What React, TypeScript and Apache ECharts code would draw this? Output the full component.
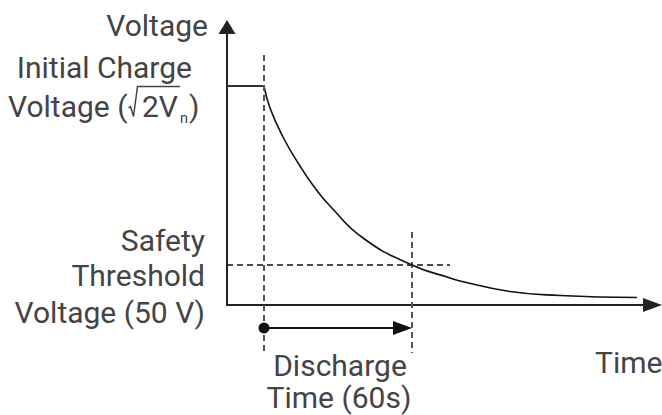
import React, { useEffect, useRef } from "react";
import * as echarts from "echarts";

// Schematic units: x = time (arbitrary), y = voltage (arbitrary)
const plateau: number[][] = [[0, 219], [37, 219]];
const decayCurve: number[][] = [
  [37, 219], [43, 197], [56, 168], [73, 139], [88, 117], [103, 99],
  [136, 67], [185, 40], [223, 27], [233, 24], [283, 13.5], [333, 9.5], [410, 7.5],
];
const dischargeStart = 37;
const dischargeEnd = 185;
const safetyLevel = 40;
const arrowLevel = -23;

const leftLabels = ["Safety", "Threshold", "Voltage (50 V)"];
const bottomLabels = ["Discharge", "Time (60s)"];

const TXT = "#444";
const FONT = "Roboto, 'Noto Sans', sans-serif";
const FS = 30;

export default function App() {
  const ref = useRef<HTMLDivElement>(null);
  useEffect(() => {
    if (!ref.current) return;
    const chart = echarts.init(ref.current, null, { renderer: "svg" });
    const dashedV = { color: "#555", width: 2, type: [6, 4] as any };
    const txt = (text: string, x: number, y: number, align: string, size = FS) => ({
      type: "text",
      x,
      y,
      style: { text, fill: TXT, font: `${size}px ${FONT}`, align, verticalAlign: "middle" },
    });
    chart.setOption({
      animation: false,
      grid: { left: 227, top: 27, right: 9.5, bottom: 110, outerBoundsMode: "none" } as any,
      xAxis: {
        type: "value",
        min: 0,
        max: 425.5,
        axisLine: { show: true, lineStyle: { color: "#222", width: 2 }, symbol: ["none", "triangle"], symbolSize: [14, 19] },
        axisTick: { show: false },
        axisLabel: { show: false },
        splitLine: { show: false },
      },
      yAxis: {
        type: "value",
        min: 0,
        max: 278,
        name: "Voltage",
        nameLocation: "end",
        nameGap: 1.5,
        nameTextStyle: {
          fontSize: FS, color: TXT, fontFamily: FONT, align: "right",
          verticalAlign: "middle", padding: [0, 19, 0, 0],
        },
        axisLine: { show: true, lineStyle: { color: "#222", width: 2 }, symbol: ["none", "triangle"], symbolSize: [17, 14] },
        axisTick: { show: false },
        axisLabel: { show: false },
        splitLine: { show: false },
      },
      series: [
        {
          type: "line", data: plateau, showSymbol: false, clip: false,
          lineStyle: { color: "#333", width: 2 },
        },
        {
          type: "line", data: decayCurve, showSymbol: false, clip: false,
          smooth: 0.5,
          lineStyle: { color: "#111", width: 1.6 },
        },
        {
          type: "line", data: [[dischargeStart, 250], [dischargeStart, -48]],
          showSymbol: false, clip: false, lineStyle: dashedV,
        },
        {
          type: "line", data: [[dischargeEnd, 73], [dischargeEnd, -48]],
          showSymbol: false, clip: false, lineStyle: dashedV,
        },
        {
          type: "line", data: [[0, safetyLevel], [223, safetyLevel]],
          showSymbol: false, clip: false,
          lineStyle: { color: "#111", width: 1.5, type: [6, 4] as any },
        },
        {
          type: "line", clip: false, showSymbol: true,
          lineStyle: { color: "#111", width: 2 },
          itemStyle: { color: "#111" },
          data: [
            { value: [dischargeStart, arrowLevel], symbol: "circle", symbolSize: 11 },
            { value: [dischargeEnd - 9.5, arrowLevel], symbol: "triangle", symbolSize: [14, 19], symbolRotate: -90 },
          ],
        },
      ],
      graphic: [
        txt("Time", 595, 362, "left"),
        txt("Initial Charge", 192, 67, "right"),
        txt("Voltage (", 8, 106, "left"),
        txt("2V", 142, 106, "left"),
        txt("n", 180, 118.7, "left", 14.5),
        txt(")", 189, 106, "left"),
        {
          type: "polyline",
          shape: { points: [[128.5, 108], [130.5, 106.5], [133.5, 116.5], [137.5, 86.5], [180, 86.5]] },
          style: { stroke: TXT, lineWidth: 1.5, fill: "none" },
        },
        txt(leftLabels[0], 205, 240, "right"),
        txt(leftLabels[1], 205, 275, "right"),
        txt(leftLabels[2], 205, 312, "right"),
        txt(bottomLabels[0], 340, 365.5, "center"),
        txt(bottomLabels[1], 339, 397.5, "center"),
      ],
    });
    return () => chart.dispose();
  }, []);
  return <div ref={ref} style={{ width: 662, height: 415, position: "absolute", left: 0, top: 0, background: "#fff" }} />;
}
